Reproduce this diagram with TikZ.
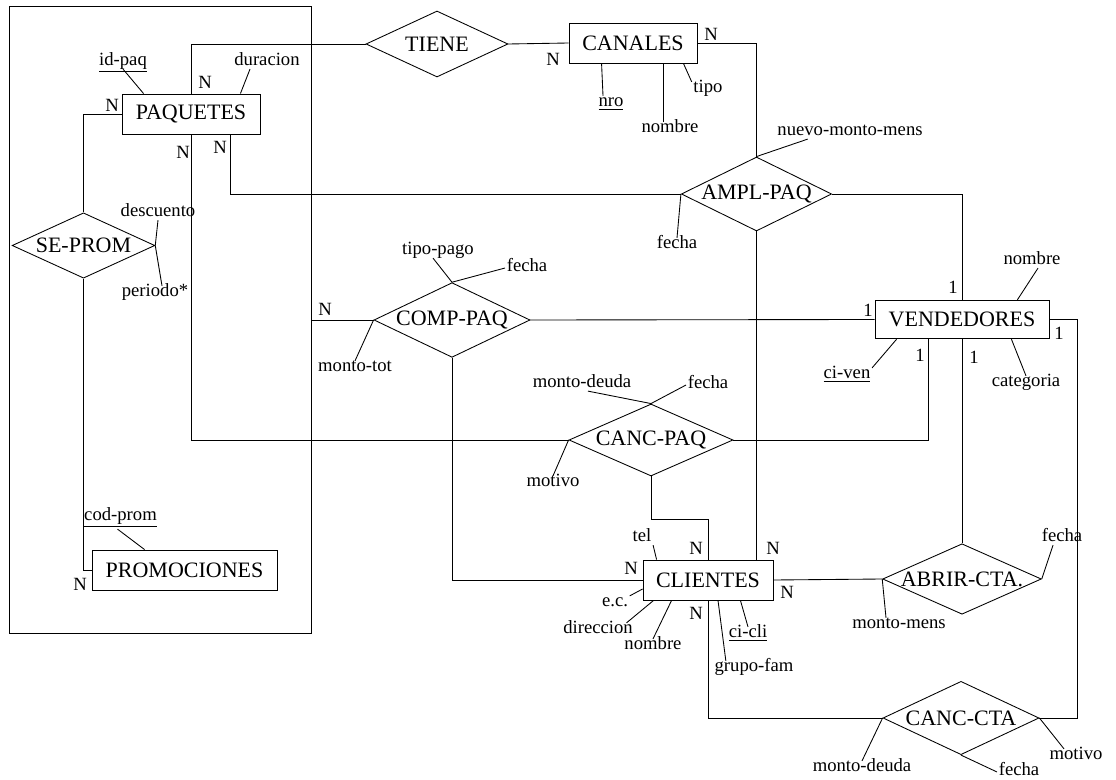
\documentclass[tikz,border=0pt]{standalone}
\usepackage{fontspec}
\setmainfont{Liberation Serif}
\usetikzlibrary{shapes.geometric,calc}

\tikzset{
  entidad/.style={draw, rectangle, minimum height=30pt, inner sep=2pt, font=\fontsize{16.5}{19}\selectfont},
  relacion/.style={draw, diamond, shape aspect=2.2, inner sep=0pt, font=\fontsize{16.5}{19}\selectfont},
  atrib/.style={inner sep=1pt, text height=1.5ex, text depth=.25ex, font=\fontsize{14}{16}\selectfont},
  card/.style={inner sep=0pt, font=\fontsize{14}{16}\selectfont}
}

\begin{document}
\begin{tikzpicture}[x=0.75pt, y=-0.75pt, line width=0.65pt]
                \useasboundingbox (0,0) rectangle (1116,780);

                % Agregacion
                \node[draw, minimum width=227pt, minimum height=470pt, inner sep=0pt] (agg) at (160.3,320) {};

                % Entidades
                \node[entidad, minimum width=103.5pt] (paq) at (191,114) {PAQUETES};
                \node[entidad, minimum width=138.75pt] (prom) at (184.5,570) {PROMOCIONES};
                \node[entidad, minimum width=96pt] (canales) at (633,43) {CANALES};
                \node[entidad, minimum width=130.5pt, minimum height=29pt] (vend) at (962,319.5) {VENDEDORES};
                \node[entidad, minimum width=97.5pt] (cli) at (708,580) {CLIENTES};

                % Relaciones
                \node[relacion, minimum width=106.5pt, minimum height=49.5pt] (tiene) at (437,44) {TIENE};
                \node[relacion, minimum width=107pt, minimum height=49pt] (seprom) at (83.5,245.5) {SE-PROM};
                \node[relacion, minimum width=110pt, minimum height=55.5pt] (ampl) at (756.5,194) {AMPL-PAQ};
                \node[relacion, minimum width=117pt, minimum height=56pt] (comppaq) at (452,320) {COMP-PAQ};
                \node[relacion, minimum width=123pt, minimum height=54pt] (cancpaq) at (651,440) {CANC-PAQ};
                \node[relacion, minimum width=119pt, minimum height=52pt] (abrir) at (962,579) {ABRIR-CTA.};
                \node[relacion, minimum width=117pt, minimum height=55pt] (canccta) at (961,718) {CANC-CTA};

                % Lineas entre entidades y relaciones
                \draw (paq.north) |- (tiene.west);
                \draw (tiene.east) -- (canales.west);
                \draw (canales.east) -| (ampl.north);
                \draw (paq.west) -| (seprom.north);
                \draw (seprom.south) |- (prom.west);
                \draw (paq.south) |- (cancpaq.west);
                \draw (paq.south east) ++(-30,0) |- (ampl.west);
                \draw (agg.east) -- (comppaq.west);
                \draw (comppaq.east) -- (vend.west);
                \draw (comppaq.south) |- (cli.west);
                \draw (ampl.east) -| (vend.north);
                \draw (ampl.south) -- (ampl.south |- cli.north);
                \draw (cancpaq.east) -| ([xshift=-25.5pt]vend.south);
                \draw (cancpaq.south) -- ++(0,43) -| (cli.north);
                \draw (vend.south) -- (abrir.north);
                \draw (cli.east) -- (abrir.west);
                \draw (vend.east) -- ++(28,0) |- (canccta.east);
                \draw (cli.south) |- (canccta.west);

                % Atributos
                \node[atrib] (idpaq) at (123,62) {\underline{id-paq}};
                \node[atrib] (duracion) at (267,62) {duracion};
                \node[atrib] (descuento) at (158,213) {descuento};
                \node[atrib] (periodo) at (155,293) {periodo*};
                \node[atrib] (codprom) at (120.5,517) {\underline{cod-prom}};
                \node[atrib] (nro) at (611,103) {\underline{nro}};
                \node[atrib] (nomcan) at (670,129) {nombre};
                \node[atrib] (tipo) at (708,89) {tipo};
                \node[atrib] (nuevo) at (850,132) {nuevo-monto-mens};
                \node[atrib] (fechaampl) at (677,245) {fecha};
                \node[atrib] (nomven) at (1032,261) {nombre};
                \node[atrib] (categoria) at (1026,383) {categoria};
                \node[atrib] (civen) at (847,375) {\underline{ci-ven}};
                \node[atrib] (tipopago) at (438,251) {tipo-pago};
                \node[atrib] (fechacomp) at (527,268) {fecha};
                \node[atrib] (montotot) at (355,368) {monto-tot};
                \node[atrib] (deudapaq) at (582,384) {monto-deuda};
                \node[atrib] (fechacanc) at (708,385) {fecha};
                \node[atrib] (motivopaq) at (553,483) {motivo};
                \node[atrib] (tel) at (642,538) {tel};
                \node[atrib] (ec) at (615,603) {e.c.};
                \node[atrib] (direccion) at (598,630) {direccion};
                \node[atrib] (nomcli) at (653,646) {nombre};
                \node[atrib] (cicli) at (748,634) {\underline{ci-cli}};
                \node[atrib] (grupofam) at (754,668) {grupo-fam};
                \node[atrib] (fechaabrir) at (1062,538) {fecha};
                \node[atrib] (montomens) at (899,625) {monto-mens};
                \node[atrib] (deudacta) at (862,768) {monto-deuda};
                \node[atrib] (fechacta) at (1019,772) {fecha};
                \node[atrib] (motivocta) at (1076,756) {motivo};

                % Lineas de atributos
                \draw (paq.north west) ++(22,0) -- (idpaq.south);
                \draw (paq.north east) ++(-20,0) -- ($(duracion.south)+(-17,0)$);
                \draw (seprom.east) -- (descuento.south);
                \draw (seprom.east) -- ($(periodo.north)+(7,0)$);
                \draw (prom.north west) ++(53,0) -- ($(codprom.south)+(-3,5)$);
                \draw (canales.south west) ++(33,0) -- ($(nro.north)+(-8,0)$);
                \draw (canales.south) ++(30,0) -- ($(nomcan.north)+(-7,0)$);
                \draw (canales.south east) ++(-14,0) -- (tipo.north west);
                \draw (ampl.north) -- ($(nuevo.south west)+(32,0)$);
                \draw (ampl.west) -- (fechaampl.north);
                \draw (vend.north east) ++(-32,0) -- ($(nomven.south)+(6,0)$);
                \draw (vend.south east) ++(-38,0) -- (categoria.north);
                \draw (vend.south west) ++(22,0) -- (civen.north east);
                \draw (comppaq.north) -- ($(tipopago.south)+(-5,0)$);
                \draw (comppaq.north) -- (fechacomp.west);
                \draw (comppaq.west) -- (montotot.north);
                \draw (cancpaq.north) -- ($(deudapaq.south)+(6,0)$);
                \draw (cancpaq.north) -- (fechacanc.west);
                \draw (cancpaq.west) -- (motivopaq.north);
                \draw (cli.north west) ++(14,0) -- (tel.south east);
                \draw (cli.west) ++(0,9) -- (ec.north east);
                \draw (cli.south west) ++(11,0) -- ($(direccion.north east)+(-8,0)$);
                \draw (cli.south west) ++(29,0) -- (nomcli.north);
                \draw (cli.south east) ++(-33,0) -- (cicli.north);
                \draw (cli.south) ++(10,0) -- ($(grupofam.north west)+(13,0)$);
                \draw (abrir.east) -- ($(fechaabrir.south)+(-9,0)$);
                \draw (abrir.west) -- ($(montomens.north)+(-13,0)$);
                \draw (canccta.west) -- (deudacta.north);
                \draw (canccta.south) -- (fechacta.west);
                \draw (canccta.east) -- ($(motivocta.north)+(-12,0)$);

                % Cardinalidades
                \node[card] (npaqw) at (112,105) {N};
                \node[card] (npaqn) at (205,82) {N};
                \node[card] (npaqs1) at (183,152) {N};
                \node[card] (npaqs2) at (220,147) {N};
                \node[card] (ncanw) at (553,59) {N};
                \node[card] (ncane) at (711,34) {N};
                \node[card] (nprom) at (80,584) {N};
                \node[card] (nagg) at (325,309) {N};
                \node[card] (uvendn) at (953,287) {1};
                \node[card] (uvendw) at (868,310) {1};
                \node[card] (uvends1) at (920,355) {1};
                \node[card] (uvends2) at (974,357) {1};
                \node[card] (uvende) at (1059,333) {1};
                \node[card] (ncliw) at (631,568) {N};
                \node[card] (nclin1) at (696,548) {N};
                \node[card] (nclin2) at (773,548) {N};
                \node[card] (nclie) at (787,592) {N};
                \node[card] (nclis) at (696,613) {N};
            \end{tikzpicture}
\end{document}
